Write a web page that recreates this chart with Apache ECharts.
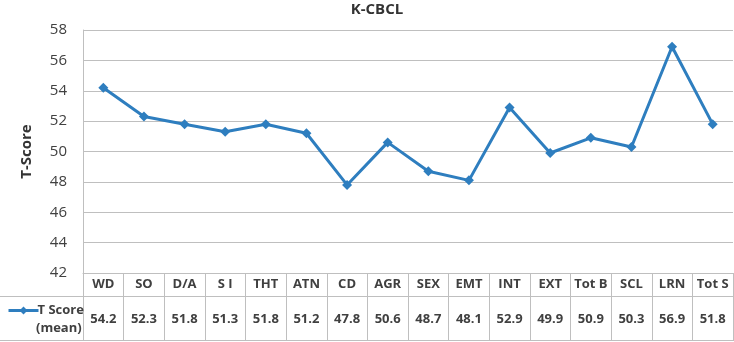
<!DOCTYPE html>
<html><head><meta charset="utf-8">
<script src="https://cdn.jsdelivr.net/npm/echarts@6/dist/echarts.min.js"></script>
<style>html,body{margin:0;padding:0;background:#fff}#c{width:734px;height:342px}</style>
</head><body><div id="c"></div>
<script>
var categories = ['WD','SO','D/A','S I','THT','ATN','CD','AGR','SEX','EMT','INT','EXT','Tot B','SCL','LRN','Tot S'];
var tScore = [54.2,52.3,51.8,51.3,51.8,51.2,47.8,50.6,48.7,48.1,52.9,49.9,50.9,50.3,56.9,51.8];
var yTicks = [42,44,46,48,50,52,54,56,58];
var FONT = '"Open Sans","Noto Sans",sans-serif';
var GRID = '#bfbfbf';
var chart = echarts.init(document.getElementById('c'));
chart.setOption({
  animation:false,
  title:{text:'K-CBCL',left:372,top:-3,textAlign:'center',textStyle:{fontFamily:FONT,fontSize:15,fontWeight:'bold',color:'#333'}},
  grid:{left:83,right:1,top:30,bottom:69,outerBoundsMode:'none',containLabel:false},
  legend:{left:2,top:299,itemWidth:30,itemHeight:10,itemGap:0,
    data:[{name:'T Score'}],
    lineStyle:{width:3},
    textStyle:{fontFamily:FONT,fontSize:13,fontWeight:'bold',color:'#404040',padding:[0,0,0,-6]}},
  xAxis:{type:'category',data:categories,boundaryGap:true,
    axisLine:{show:true,lineStyle:{color:GRID,width:1}},
    axisTick:{show:true,length:68,lineStyle:{color:GRID,width:1}},
    axisLabel:{interval:0,margin:0,
      formatter:function(v,i){return '{h|'+v+'}\n{v|'+tScore[i].toFixed(1)+'}';},
      rich:{
        h:{fontFamily:FONT,fontSize:13,fontWeight:'bold',color:'#404040',lineHeight:23,height:23},
        v:{fontFamily:FONT,fontSize:13,fontWeight:'bold',color:'#404040',lineHeight:46,height:46}
      }},
    splitLine:{show:false}},
  yAxis:{type:'value',min:42,max:58,interval:2,
    name:'T-Score',nameLocation:'middle',nameGap:49,
    nameTextStyle:{fontFamily:FONT,fontSize:15,fontWeight:'bold',color:'#333'},
    axisLine:{show:true,lineStyle:{color:GRID}},
    axisTick:{show:false},
    axisLabel:{fontFamily:FONT,fontSize:15,color:'#404040',margin:16,
      formatter:function(v){return yTicks.indexOf(v)>=0?String(v):'';}},
    splitLine:{show:true,lineStyle:{color:GRID,width:1}}},
  graphic:[
    {type:'line',shape:{x1:0,y1:296.5,x2:734,y2:296.5},style:{stroke:GRID,lineWidth:1},silent:true},
    {type:'line',shape:{x1:0,y1:340.5,x2:734,y2:340.5},style:{stroke:GRID,lineWidth:1},silent:true},
    {type:'text',left:36,top:322,style:{text:'(mean)',fontFamily:FONT,fontSize:13,fontWeight:'bold',fill:'#404040'},silent:true}
  ],
  series:[{name:'T Score',type:'line',data:tScore,
    symbol:'diamond',symbolSize:10,
    lineStyle:{color:'#2e7ebf',width:3},
    itemStyle:{color:'#2e7ebf'}}]
});
</script></body></html>
